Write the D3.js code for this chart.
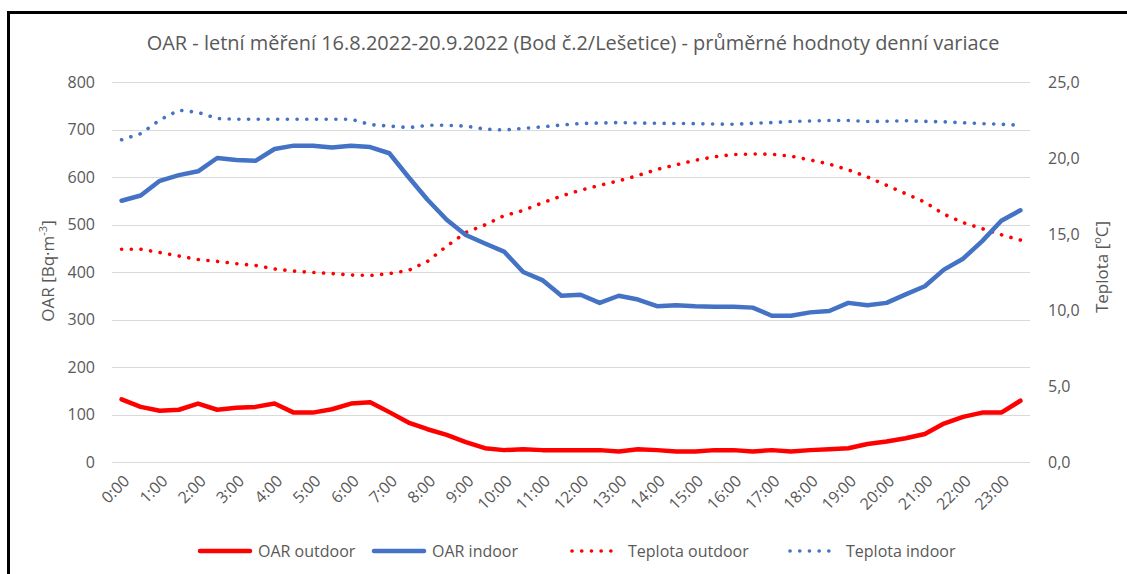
<!DOCTYPE html>
<html>
<head>
<meta charset="utf-8">
<script src="https://cdn.jsdelivr.net/npm/d3@7"></script>
<style>
  html, body { margin: 0; padding: 0; background: #fff; }
  svg { display: block; font-family: "Open Sans", "Noto Sans", sans-serif; }
</style>
</head>
<body>
<svg id="chart" width="1127" height="574"></svg>
<script>
// Half-hour categories of the averaged day
const times = [
  "0:00","0:30","1:00","1:30","2:00","2:30","3:00","3:30","4:00","4:30","5:00","5:30",
  "6:00","6:30","7:00","7:30","8:00","8:30","9:00","9:30","10:00","10:30","11:00","11:30",
  "12:00","12:30","13:00","13:30","14:00","14:30","15:00","15:30","16:00","16:30","17:00","17:30",
  "18:00","18:30","19:00","19:30","20:00","20:30","21:00","21:30","22:00","22:30","23:00","23:30"
];

// OAR [Bq·m-3]
const oarOutdoor = [132,116,108,110,123,110,114,116,123,104,104,111,123,126,105,83,69,57,42,29,25,27,25,25,
                    25,25,22,27,25,22,22,25,25,22,25,22,25,27,29,38,43,50,59,81,95,104,104,129];
const oarIndoor  = [550,561,592,604,612,640,636,634,659,666,666,662,666,663,650,600,552,510,478,460,443,400,383,350,
                    352,335,350,342,328,330,328,327,327,325,308,308,315,318,335,330,335,353,370,405,428,465,508,530];

// Teplota [°C]
const tempOutdoor = [14.0,14.0,13.78,13.55,13.32,13.2,13.05,12.93,12.7,12.56,12.47,12.4,12.3,12.27,12.4,12.6,13.2,14.2,15.1,15.6,16.2,16.55,17.05,17.5,
                     17.88,18.2,18.5,18.85,19.25,19.55,19.85,20.08,20.23,20.26,20.25,20.12,19.87,19.6,19.22,18.75,18.2,17.65,17.1,16.3,15.75,15.35,14.95,14.6];
const tempIndoor  = [21.2,21.6,22.5,23.15,23.0,22.6,22.55,22.55,22.55,22.55,22.55,22.55,22.55,22.2,22.1,22.0,22.15,22.15,22.1,21.9,21.84,21.95,22.05,22.17,
                     22.27,22.3,22.33,22.3,22.28,22.27,22.26,22.23,22.22,22.28,22.33,22.4,22.43,22.47,22.47,22.4,22.42,22.45,22.41,22.38,22.32,22.26,22.22,22.15];

// Axis ticks
const leftTicks  = [0,100,200,300,400,500,600,700,800];
const rightTicks = [0,5,10,15,20,25];
const hourLabels = ["0:00","1:00","2:00","3:00","4:00","5:00","6:00","7:00","8:00","9:00","10:00","11:00",
                    "12:00","13:00","14:00","15:00","16:00","17:00","18:00","19:00","20:00","21:00","22:00","23:00"];

const titleText = "OAR - letní měření 16.8.2022-20.9.2022 (Bod č.2/Lešetice) - průměrné hodnoty denní variace";

const RED = "#ff0000", BLUE = "#4472c4", TXT = "#595959", GRID = "#d9d9d9";

const svg = d3.select("#chart");
const plot = { left: 112, right: 1030, top: 82, bottom: 462 };

const x = d3.scaleBand().domain(times).range([plot.left, plot.right]).padding(0);
const xc = t => x(t) + x.bandwidth() / 2;
const yL = d3.scaleLinear().domain([0, 800]).range([plot.bottom, plot.top]);
const yR = d3.scaleLinear().domain([0, 25]).range([plot.bottom, plot.top]);

// Frame
svg.append("path")
  .attr("d", `M8.5,574 L8.5,12.5 L1127,12.5`)
  .attr("fill", "none").attr("stroke", "#000").attr("stroke-width", 3);

// Title, sized to span its line
const title = svg.append("text")
  .attr("x", 573).attr("y", 50)
  .attr("text-anchor", "middle")
  .attr("fill", TXT)
  .attr("font-size", 20)
  .text(titleText);
const tw = title.node().getComputedTextLength();
title.attr("font-size", 20 * 853 / tw);

// Gridlines
svg.append("g").selectAll("line").data(leftTicks).join("line")
  .attr("x1", plot.left).attr("x2", plot.right)
  .attr("y1", d => Math.round(yL(d)) + 0.5).attr("y2", d => Math.round(yL(d)) + 0.5)
  .attr("stroke", GRID).attr("stroke-width", 1);

// Left axis
const gL = svg.append("g").attr("transform", `translate(${plot.left - 15},0)`)
  .call(d3.axisLeft(yL).tickValues(leftTicks).tickSize(0).tickPadding(2).tickFormat(d3.format("d")));
gL.select(".domain").remove();
gL.selectAll("text").attr("fill", TXT).attr("font-size", 16).attr("font-family", "Open Sans");

// Right axis
const fmtComma = d => d3.format(".1f")(d).replace(".", ",");
const gR = svg.append("g").attr("transform", `translate(${plot.right + 16},0)`)
  .call(d3.axisRight(yR).tickValues(rightTicks).tickSize(0).tickPadding(2).tickFormat(fmtComma));
gR.select(".domain").remove();
gR.selectAll("text").attr("fill", TXT).attr("font-size", 16).attr("font-family", "Open Sans");

// Bottom axis: hourly labels, rotated
const gB = svg.append("g").attr("transform", `translate(0,${plot.bottom})`)
  .call(d3.axisBottom(x).tickValues(hourLabels).tickSize(0).tickFormat(d => d));
gB.select(".domain").remove();
gB.selectAll(".tick").attr("transform", d => `translate(${xc(d)},0)`);
gB.selectAll("text")
  .attr("fill", TXT).attr("font-size", 16).attr("font-family", "Open Sans")
  .attr("text-anchor", "end")
  .attr("dy", "0.35em").attr("y", 0)
  .attr("transform", "translate(5,16) rotate(-45)");

// Axis titles
svg.append("text")
  .attr("transform", "translate(54,271) rotate(-90)")
  .attr("text-anchor", "middle").attr("fill", TXT).attr("font-size", 17)
  .call(t => {
    t.append("tspan").text("OAR [Bq·m");
    t.append("tspan").attr("font-size", 11).attr("dy", -7).text("-3");
    t.append("tspan").attr("dy", 7).text("]");
  });
svg.append("text")
  .attr("transform", "translate(1108,267) rotate(-90)")
  .attr("text-anchor", "middle").attr("fill", TXT).attr("font-size", 17)
  .call(t => {
    t.append("tspan").text("Teplota [");
    t.append("tspan").attr("font-size", 11).attr("dy", -7).text("o");
    t.append("tspan").attr("dy", 7).text("C]");
  });

// Series
const series = [
  { name: "OAR outdoor",     values: oarOutdoor,  y: yL, color: RED,  dotted: false },
  { name: "OAR indoor",      values: oarIndoor,   y: yL, color: BLUE, dotted: false },
  { name: "Teplota outdoor", values: tempOutdoor, y: yR, color: RED,  dotted: true },
  { name: "Teplota indoor",  values: tempIndoor,  y: yR, color: BLUE, dotted: true }
];

const drawOrder = [2, 3, 1, 0];
drawOrder.forEach(i => {
  const s = series[i];
  const line = d3.line().x((d, j) => xc(times[j])).y(d => s.y(d));
  svg.append("path")
    .datum(s.values)
    .attr("d", line)
    .attr("fill", "none")
    .attr("stroke", s.color)
    .attr("stroke-linejoin", "round")
    .attr("stroke-linecap", s.dotted ? "round" : "round")
    .attr("stroke-width", s.dotted ? 3.6 : 4.5)
    .attr("stroke-dasharray", s.dotted ? "0.1 9.6" : null);
});

// Legend
const legendX = [200, 374, 570, 788];
const legendY = 551;
const lg = svg.append("g");
series.forEach((s, i) => {
  const g = lg.append("g").attr("transform", `translate(${legendX[i]},${legendY})`);
  g.append("line")
    .attr("x1", s.dotted ? 2 : 0).attr("x2", 50).attr("y1", 0).attr("y2", 0)
    .attr("stroke", s.color)
    .attr("stroke-width", s.dotted ? 3.6 : 4.5)
    .attr("stroke-linecap", "round")
    .attr("stroke-dasharray", s.dotted ? "0.1 9.6" : null);
  g.append("text")
    .attr("x", 58).attr("y", 0).attr("dy", "0.35em")
    .attr("fill", TXT).attr("font-size", 16)
    .text(s.name);
});
</script>
</body>
</html>
